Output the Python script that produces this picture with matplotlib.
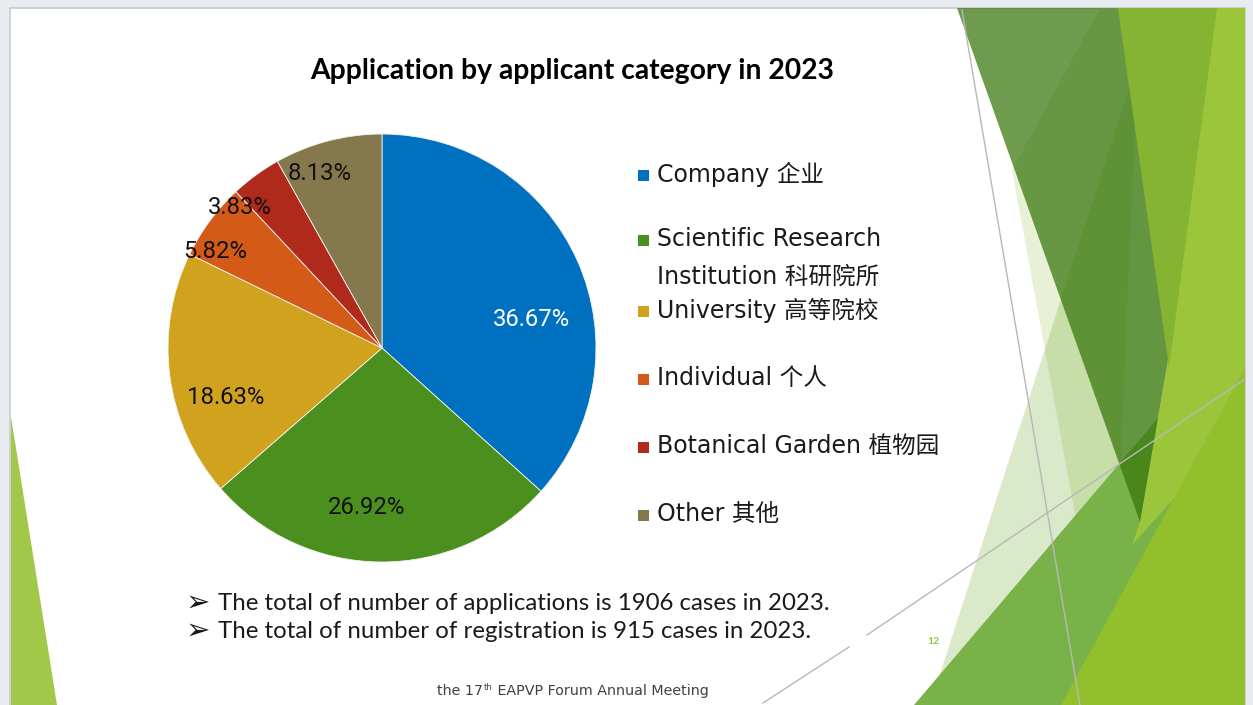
import matplotlib
matplotlib.use("Agg")
import matplotlib.pyplot as plt
from matplotlib.patches import Polygon, Rectangle

# ---------------- data ----------------
categories = ["Company 企业", "Scientific Research", "University 高等院校",
              "Individual 个人", "Botanical Garden 植物园", "Other 其他"]
category_second_line = ["", "Institution 科研院所", "", "", "", ""]
shares = [36.67, 26.92, 18.63, 5.82, 3.83, 8.13]
colors = ["#0070C0", "#4B8F1F", "#D0A21E", "#D35A17", "#AF2A1A", "#84784C"]
label_colors = ["white", "#111111", "#111111", "#111111", "#111111", "#111111"]
title = "Application by applicant category in 2023"
notes = ["The total of number of applications is 1906 cases in 2023.",
         "The total of number of registration is 915 cases in 2023."]
footer_parts = ["the 17", "th", " EAPVP Forum Annual Meeting"]
page_number = "12"

# ---------------- layout ----------------
W, H = 1253, 705
fig = plt.figure(figsize=(W / 100, H / 100), dpi=100, facecolor="#E8EBEF")
ax = fig.add_axes([0, 0, 1, 1])
ax.set_xlim(0, W)
ax.set_ylim(H, 0)
ax.axis("off")

slide = Rectangle((10, 8), 1235, 702, facecolor="white", edgecolor="#C8CACD",
                  linewidth=1.2, zorder=0)
ax.add_patch(slide)

# decorative facets (theme graphics)
decor = [
    ([(1012, 170), (1100, 8), (1140, 8), (1110, 705)], "#E8F1D6", 1.0),
    ([(1155, 8), (1168, 360), (1125, 705), (930, 705)], "#5A9B0A", 0.22),
    ([(914, 705), (1245, 316), (1245, 705)], "#7AB24A", 1.0),
    ([(1118, 8), (1245, 8), (1245, 420), (1132, 545), (1140, 522), (1168, 360)], "#9BC63C", 1.0),
    ([(1118, 8), (1217, 8), (1169, 367)], "#85B332", 1.0),
    ([(957, 8), (1118, 8), (1168, 360), (1140, 522)], "#37750B", 0.72),
    ([(1061, 705), (1245, 368), (1245, 705)], "#92C02C", 1.0),
    ([(11, 417), (11, 705), (57, 705)], "#A2C84A", 1.0),
]
for pts, c, a in decor:
    p = Polygon(pts, closed=True, facecolor=c, alpha=a, edgecolor="none", zorder=1)
    ax.add_patch(p)
    p.set_clip_path(slide)

line_kw = dict(color="#B8B8B8", linewidth=1.0, zorder=2)
ax.plot([962, 1080], [10, 705], **line_kw)
ax.plot([763, 849], [703, 647], **line_kw)
ax.plot([867, 1245], [635, 379], **line_kw)

# ---------------- pie ----------------
wedges, _, autotexts = ax.pie(
    shares, colors=colors, startangle=-90, counterclock=True,
    center=(382, 348), radius=214, frame=True,
    autopct=lambda p: f"{p:.2f}%", pctdistance=0.75,
    wedgeprops=dict(edgecolor="#F4F4F4", linewidth=0.6),
)
for w in wedges:
    w.set_zorder(3)

label_xy = [(531, 320), (367, 507), (226, 398), (215, 252), (240, 208), (320, 174)]
fig.canvas.draw()
renderer = fig.canvas.get_renderer()


def fit_width(t, target):
    bb = t.get_window_extent(renderer)
    t.set_fontsize(t.get_fontsize() * target / bb.width)


for t, xy, c in zip(autotexts, label_xy, label_colors):
    t.set_position(xy)
    t.set_color(c)
    t.set_family(["Roboto", "DejaVu Sans"])
    t.set_ha("center")
    t.set_va("center")
    t.set_zorder(5)
    t.set_fontsize(14)
fit_width(autotexts[0], 78)
for t in autotexts[1:]:
    t.set_fontsize(autotexts[0].get_fontsize())

# ---------------- title ----------------
tt = ax.text(572, 71, title, ha="center", va="center", fontsize=18,
             fontweight="bold", family=["Lato", "DejaVu Sans"], color="black", zorder=5)
fit_width(tt, 525)

# ---------------- legend ----------------
cjk = ["DejaVu Sans", "Noto Sans CJK SC"]
legend_y = [174, 239, 310, 378, 446, 514]
ref = ax.text(657, legend_y[4], categories[4], ha="left", va="center",
              fontsize=14, family=cjk, color="#1A1A1A", zorder=5)
fit_width(ref, 283)
fs_leg = ref.get_fontsize()
for i, (lab, lab2, c, y) in enumerate(zip(categories, category_second_line, colors, legend_y)):
    if i != 4:
        ax.text(657, y, lab, ha="left", va="center", fontsize=fs_leg,
                family=cjk, color="#1A1A1A", zorder=5)
    if lab2:
        ax.text(657, y + 38, lab2, ha="left", va="center", fontsize=fs_leg,
                family=cjk, color="#1A1A1A", zorder=5)
    ax.add_patch(Rectangle((638, y - 4), 11, 11, facecolor=c, edgecolor="none", zorder=5))

# ---------------- notes ----------------
note_y = [603, 631]
nt = []
for s, y in zip(notes, note_y):
    ax.text(198, y, "➢", ha="center", va="center", fontsize=21,
            family=["DejaVu Sans"], color="#1A1A1A", zorder=5)
    nt.append(ax.text(218, y, s, ha="left", va="center", fontsize=14,
                      family=["Lato", "DejaVu Sans"], color="#1A1A1A", zorder=5))
fit_width(nt[0], 612)
nt[1].set_fontsize(nt[0].get_fontsize())

ax.text(933, 641, page_number, ha="center", va="center", fontsize=7.5,
        family=["Lato"], color="#8DC63F", fontweight="bold", zorder=5)

# ---------------- footer ----------------
fs_foot = 10.0
f1 = ax.text(437, 691, footer_parts[0], ha="left", va="center", fontsize=fs_foot,
             family=["DejaVu Sans"], color="#404040", zorder=5)
f2 = ax.text(0, 687, footer_parts[1], ha="left", va="center", fontsize=fs_foot * 0.6,
             family=["DejaVu Sans"], color="#404040", zorder=5)
f3 = ax.text(0, 691, footer_parts[2], ha="left", va="center", fontsize=fs_foot,
             family=["DejaVu Sans"], color="#404040", zorder=5)


def place_footer():
    b1 = f1.get_window_extent(renderer)
    f2.set_x(b1.x1 + 1)
    b2 = f2.get_window_extent(renderer)
    f3.set_x(b2.x1)
    b3 = f3.get_window_extent(renderer)
    return b3.x1 - 437


total = place_footer()
scale = 271 / total
for t in (f1, f2, f3):
    t.set_fontsize(t.get_fontsize() * scale)
place_footer()

ax.set_xlim(0, W)
ax.set_ylim(H, 0)
ax.set_aspect("auto")
fig.savefig("out.png", dpi=100, facecolor=fig.get_facecolor())
